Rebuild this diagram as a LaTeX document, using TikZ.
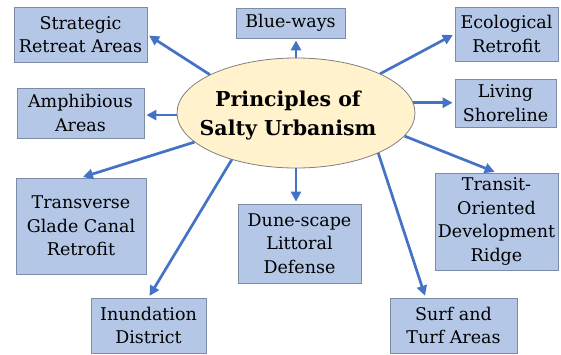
\documentclass[tikz,border=0pt]{standalone}
\usepackage{fontspec}
\setmainfont{DejaVu Serif}
\usetikzlibrary{arrows.meta,shapes.geometric}
\definecolor{boxblue}{RGB}{180,199,231}
\definecolor{boxedge}{RGB}{125,140,165}
\definecolor{hubfill}{RGB}{255,242,204}
\definecolor{spokeblue}{RGB}{68,114,196}
\tikzset{
	theme/.style = {draw = boxedge, fill = boxblue, line width = 0.8pt, align = center, inner sep = 0pt, font = \fontsize{17.5}{23.5}\selectfont},
	hub/.style = {ellipse, draw = gray, fill = hubfill, line width = 0.8pt, align = center, inner sep = 0pt, font = \fontsize{20.5}{29}\selectfont\bfseries},
	spoke/.style = {-{Triangle[length=10pt,width=10pt]}, line width = 2.7pt, draw = spokeblue, shorten > = 2pt}
}
\begin{document}
\begin{tikzpicture}[x = 1pt, y = -1pt]
		\useasboundingbox (0,0) rectangle (561,354);
		\node [hub, minimum width = 238pt, minimum height = 110pt] (hub) at (296,113) {};
		\node [font = \fontsize{20.5}{29}\selectfont\bfseries, align = center] (title) at (288,115) {Principles of\\Salty Urbanism};
		\node [theme, minimum width = 133pt, minimum height = 55pt] (strat) at (80.5,34.5) {Strategic\\Retreat Areas};
		\node [theme, minimum width = 109pt, minimum height = 30pt] (blue) at (290.5,23) {Blue-ways};
		\node [theme, minimum width = 103pt, minimum height = 54pt] (eco) at (506.5,34) {Ecological\\Retrofit};
		\node [theme, minimum width = 127pt, minimum height = 50pt] (amph) at (80.5,113) {Amphibious\\Areas};
		\node [theme, minimum width = 101pt, minimum height = 48pt] (living) at (505.5,103) {Living\\Shoreline};
		\node [theme, minimum width = 130pt, minimum height = 96pt] (glade) at (81,226) {Transverse\\Glade Canal\\Retrofit};
		\node [theme, minimum width = 123pt, minimum height = 79pt] (dune) at (299.5,243.5) {Dune-scape\\Littoral\\Defense};
		\node [theme, minimum width = 123pt, minimum height = 97pt] (transit) at (496.5,221.5) {Transit-\\Oriented\\Development\\Ridge};
		\node [theme, minimum width = 115pt, minimum height = 55pt] (inund) at (148.5,325.5) {Inundation\\District};
		\node [theme, minimum width = 127pt, minimum height = 55pt] (surf) at (453.5,325.5) {Surf and\\Turf Areas};
		\draw [spoke] (hub.156) -- (strat.east);
		\draw [spoke] (hub.90) -- (hub.90 |- blue.south);
		\draw [spoke] (hub.25) -- (eco.west);
		\draw [spoke] (hub.181) -- (hub.181 -| amph.east);
		\draw [spoke] (hub.5) -- (hub.5 -| living.west);
		\draw [spoke] (hub.196) -- (glade.north);
		\draw [spoke] (hub.348) -- (transit.north);
		\draw [spoke] (hub.270) -- (hub.270 |- dune.north);
		\draw [spoke] (hub.216) -- (inund.north);
		\draw [spoke] (hub.334) -- (surf.135);
	\end{tikzpicture}
\end{document}
